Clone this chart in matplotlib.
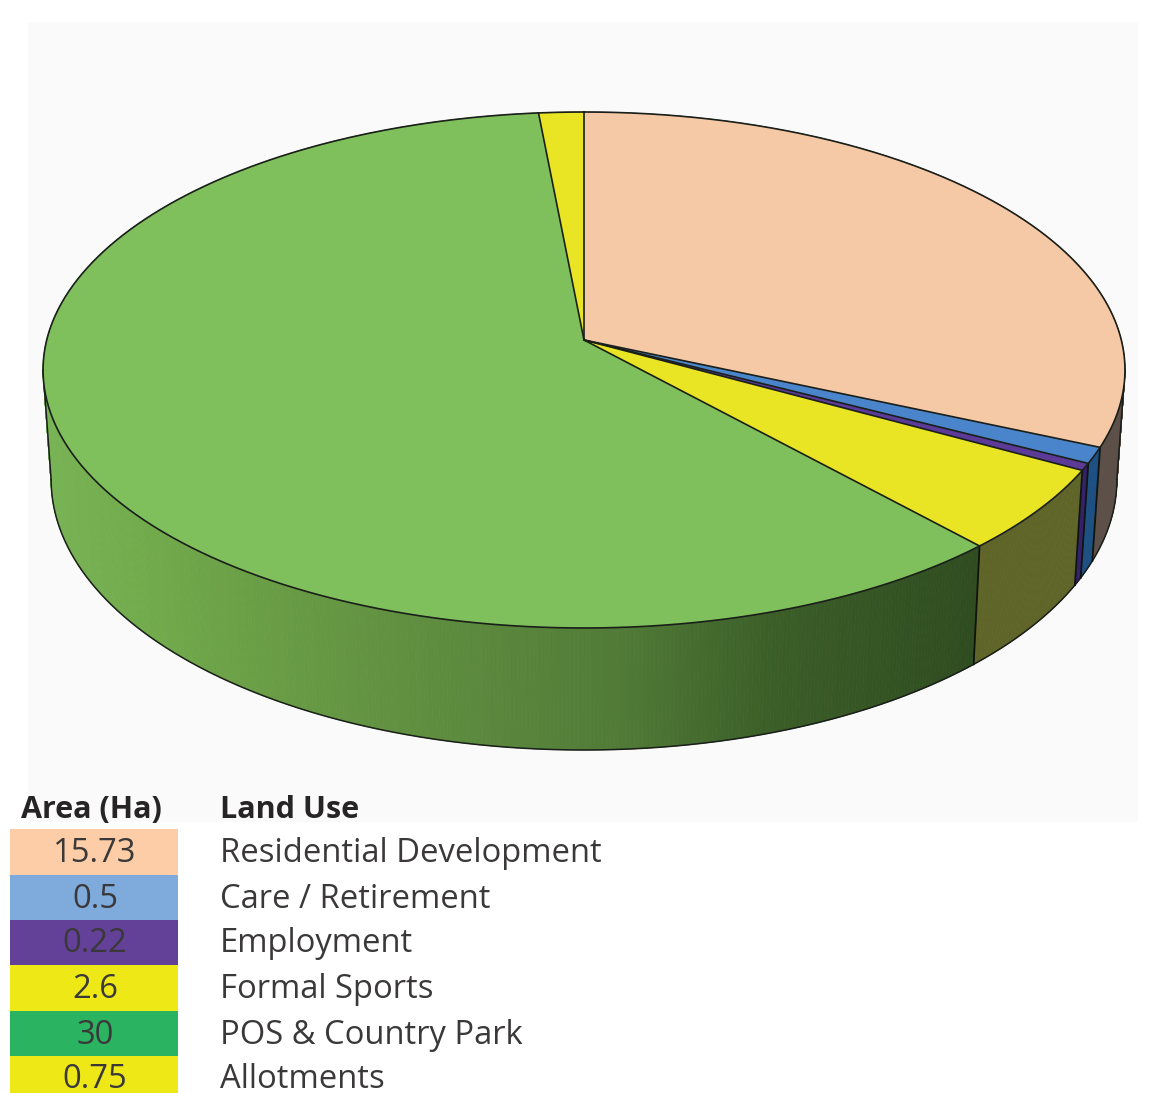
#!/usr/bin/env python3
"""
Land use split by area, drawn as a thick pie seen in perspective,
with a small colour key below it.
"""

import numpy as np
import matplotlib.pyplot as plt
from matplotlib.patches import Polygon, Rectangle

land_use = ["Residential Development", "Care / Retirement", "Employment",
            "Formal Sports", "POS & Country Park", "Allotments"]
area_labels = ["15.73", "0.5", "0.22", "2.6", "30", "0.75"]
area_ha = [15.73, 0.5, 0.22, 2.6, 30, 0.75]

top_colors = ["#f6c9a6", "#4a85cb", "#5b3a98", "#e9e424", "#80c05c", "#e9e424"]
key_colors = ["#fccda6", "#7eabdc", "#634199", "#eee817", "#2ab360", "#eee817"]
side_colors = ["#5c5048", "#1d4f82", "#34206a", "#5f6428", None, "#5f6428"]

# shading of the green wall, left to right
green_x = [0.0, 0.10, 0.25, 0.45, 0.62, 0.78, 1.0]
green_r = [0x78, 0x72, 0x69, 0x5c, 0x50, 0x3b, 0x2f]
green_g = [0xb3, 0xab, 0x9c, 0x8a, 0x7a, 0x5e, 0x4c]
green_b = [0x55, 0x4c, 0x45, 0x3e, 0x36, 0x28, 0x20]

# perspective set-up for the pie disc, in pixels
CX, CY = 584, 340
RX, RY = 537.3, 254.5
TILT = 0.1163


def project(theta):
    """Map clockwise angle from 12 o'clock to the top rim of the disc."""
    s, c = np.sin(theta), np.cos(theta)
    w = 1 + TILT * c
    return CX + RX * s / w, CY - RY * c / w


def project_low(theta):
    """Same angle on the lower rim."""
    x, y = project(theta)
    return CX + (x - CX) * 0.985, y + 108 - 14 * np.cos(theta)


def green_shade(x):
    t = (x - 43) / (980 - 43)
    rgb = [np.interp(t, green_x, ch) / 255 for ch in (green_r, green_g, green_b)]
    return tuple(rgb)


fig = plt.figure(figsize=(11.69, 10.93), dpi=100, facecolor="white")
ax = fig.add_axes([0, 0, 1, 1])
ax.set_xlim(0, 1169)
ax.set_ylim(1093, 0)
ax.axis("off")

ax.add_patch(Rectangle((28, 22), 1110, 800, facecolor="#fafafa", edgecolor="none", zorder=0))

edges = np.concatenate([[0], np.cumsum(area_ha)]) / sum(area_ha) * 2 * np.pi
line_kw = dict(color="#1a1f1a", linewidth=1.2, solid_capstyle="round", zorder=6)

# wall of the pie first, the top face then hides the back of it
for i in range(len(area_ha)):
    a0, a1 = edges[i], edges[i + 1]
    n = max(3, int((a1 - a0) * 150))
    th = np.linspace(a0, a1, n + 1)
    xt, yt = project(th)
    xb, yb = project_low(th)
    for j in range(n):
        col = side_colors[i] if side_colors[i] else green_shade(0.5 * (xt[j] + xt[j + 1]))
        quad = [(xt[j], yt[j]), (xt[j + 1], yt[j + 1]), (xb[j + 1], yb[j + 1]), (xb[j], yb[j])]
        ax.add_patch(Polygon(quad, closed=True, facecolor=col, edgecolor=col, linewidth=0.6, zorder=2))

# lower rim, running between its outermost points, and the two outer silhouettes
th = np.linspace(0, 2 * np.pi, 2001)
xb, yb = project_low(th)
xt, yt = project(th)
right_b, left_b = np.argmax(xb), np.argmin(xb)
rim = th[right_b:left_b + 1]
xr, yr = project_low(rim)
ax.plot(xr, yr, color="#1a1f1a", linewidth=1.1, zorder=3)
ax.plot([xt[np.argmax(xt)], xb[right_b]], [yt[np.argmax(xt)], yb[right_b]], color="#1a1f1a", linewidth=1.1, zorder=3)
ax.plot([xt[np.argmin(xt)], xb[left_b]], [yt[np.argmin(xt)], yb[left_b]], color="#1a1f1a", linewidth=1.1, zorder=3)

# joints between wall sections
for a in edges[:-1]:
    if np.cos(a) < 0.0:
        x0, y0 = project(a)
        x1, y1 = project_low(a)
        ax.plot([x0, x1], [y0, y1], color="#10140f", linewidth=1.3, zorder=3)

# top face
for i in range(len(area_ha)):
    th = np.linspace(edges[i], edges[i + 1], 300)
    xt, yt = project(th)
    pts = [(CX, CY)] + list(zip(xt, yt))
    ax.add_patch(Polygon(pts, closed=True, facecolor=top_colors[i], edgecolor="none", zorder=4))
for i in range(len(area_ha)):
    th = np.linspace(edges[i], edges[i + 1], 300)
    xt, yt = project(th)
    ax.plot(xt, yt, **line_kw)
    ax.plot([CX, xt[0]], [CY, yt[0]], **line_kw)

# colour key
row_tops = [829, 875, 920, 965, 1011, 1056]
row_bottom = 1093
text_col = "#3a3839"
fs = 23.6
family = ["Open Sans", "DejaVu Sans"]

ax.text(91, 810, "Area (Ha)", ha="center", va="center", fontsize=22, fontweight="bold",
        family=family, color="#262425", zorder=7)
ax.text(220, 810, "Land Use", ha="left", va="center", fontsize=22, fontweight="bold",
        family=family, color="#262425", zorder=7)

for i, name in enumerate(land_use):
    top = row_tops[i]
    bot = row_tops[i + 1] if i + 1 < len(row_tops) else row_bottom
    ax.add_patch(Rectangle((10, top), 168, bot - top, facecolor=key_colors[i], edgecolor="none", zorder=1))
    y = top + 24
    ax.text(95, y, area_labels[i], ha="center", va="center", fontsize=fs, family=family,
            color=text_col, zorder=7)
    ax.text(220, y, name, ha="left", va="center", fontsize=fs, family=family,
            color=text_col, zorder=7)

fig.savefig("out.png", dpi=100, facecolor="white")
